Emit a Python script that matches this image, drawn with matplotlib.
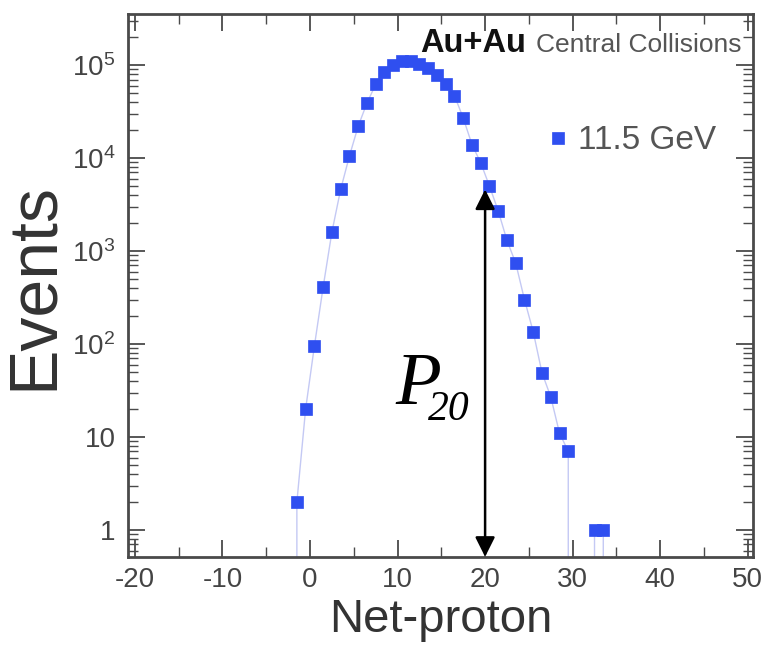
import matplotlib
matplotlib.use("Agg")
import matplotlib.pyplot as plt
import numpy as np
from matplotlib.ticker import FixedLocator, MultipleLocator, FuncFormatter, LogLocator, NullFormatter

plt.rcParams["font.family"] = ["Liberation Sans", "DejaVu Sans"]
plt.rcParams["mathtext.fontset"] = "custom"
plt.rcParams["mathtext.rm"] = "Liberation Sans"
plt.rcParams["mathtext.it"] = "Liberation Sans:italic"
plt.rcParams["axes.unicode_minus"] = False

# net-proton bins (centres as drawn) and event counts
net_proton = [-1.5, -0.5, 0.5, 1.5, 2.5, 3.5, 4.5, 5.5, 6.5, 7.5, 8.5, 9.5,
              10.5, 11.5, 12.5, 13.5, 14.5, 15.5, 16.5, 17.5, 18.5, 19.5,
              20.5, 21.5, 22.5, 23.5, 24.5, 25.5, 26.5, 27.5, 28.5, 29.5,
              32.5, 33.5]
events = [2, 20, 95, 410, 1600, 4600, 10500, 22000, 39000, 62000, 85000, 100000,
          110000, 110000, 103000, 92000, 78000, 62000, 47000, 27000, 14000, 8900,
          5000, 2700, 1300, 740, 300, 135, 49, 27, 11, 7,
          1, 1]

# thin connecting histogram line, empty bins included (they drop off the log axis)
line_x = [-2.5] + net_proton[:32] + [30.5, 31.5] + net_proton[32:] + [34.5]
line_y = [0] + events[:32] + [0, 0] + events[32:] + [0]

series_label = "11.5 GeV"
arrow_x = 20
arrow_top = 4600

BLUE = "#2f4ff0"
GREY = "#4a4a4a"

fig = plt.figure(figsize=(7.66, 6.46), dpi=100)
ax = fig.add_axes([0.167, 0.138, 0.816, 0.840])

ax.set_yscale("log", nonpositive="clip")
ax.plot(line_x, line_y, "-", color="#c4c9f4", lw=1.0, zorder=1)
ax.plot(net_proton, events, "s", color=BLUE, ms=8.5, mec=BLUE, mew=0.5,
        zorder=3, label=series_label)

ax.set_xlim(-20.8, 50.6)
ax.set_ylim(0.513, 3.53e5)

# ROOT-ish frame: inward ticks on all four sides
ax.xaxis.set_major_locator(MultipleLocator(10))
ax.xaxis.set_minor_locator(MultipleLocator(5))
ax.yaxis.set_major_locator(FixedLocator([1, 10, 100, 1e3, 1e4, 1e5]))
ax.yaxis.set_minor_locator(LogLocator(base=10, subs=np.arange(2, 10)))
ax.yaxis.set_minor_formatter(NullFormatter())


def ylab(v, pos):
    e = int(round(np.log10(v)))
    if e == 0:
        return "1"
    if e == 1:
        return "10"
    return r"$\mathregular{10^{%d}}$" % e


ax.yaxis.set_major_formatter(FuncFormatter(ylab))
ax.tick_params(which="both", direction="in", top=True, right=True,
               color=GREY, labelcolor="#444444", labelsize=20)
ax.tick_params(which="major", length=12, width=1.3)
ax.tick_params(which="minor", length=7, width=1.0)
ax.tick_params(axis="x", pad=7)
ax.tick_params(axis="y", pad=9)
for sp in ax.spines.values():
    sp.set_color(GREY)
    sp.set_linewidth(2.0)

ax.set_xlabel("Net-proton", fontsize=34, color="#333333", labelpad=4)
ax.set_ylabel("Events", fontsize=49, color="#333333", labelpad=4)

# double arrow marking P_20
ax.annotate("", xy=(arrow_x, arrow_top), xytext=(arrow_x, 0.513),
            arrowprops=dict(arrowstyle="<|-|>", color="black", lw=1.8,
                            mutation_scale=30, shrinkA=0, shrinkB=0), zorder=4)
ax.text(0.428, 0.282, "P", transform=ax.transAxes, fontsize=54,
        family="Liberation Serif", style="italic", ha="left", va="baseline")
ax.text(0.48, 0.252, "20", transform=ax.transAxes, fontsize=30,
        family="Liberation Serif", style="italic", ha="left", va="baseline")

ax.text(0.467, 0.930, "Au+Au", transform=ax.transAxes, fontsize=23.5,
        weight="bold", color="#111111", va="baseline")
ax.text(0.653, 0.930, "Central Collisions", transform=ax.transAxes,
        fontsize=19, color="#555555", va="baseline")

ax.legend(loc="upper left", bbox_to_anchor=(0.64, 0.82), frameon=False,
          fontsize=24, labelcolor="#555555", handletextpad=0.1,
          handlelength=1.0, borderaxespad=0, markerscale=1.0)

fig.savefig("out.png", dpi=100)
